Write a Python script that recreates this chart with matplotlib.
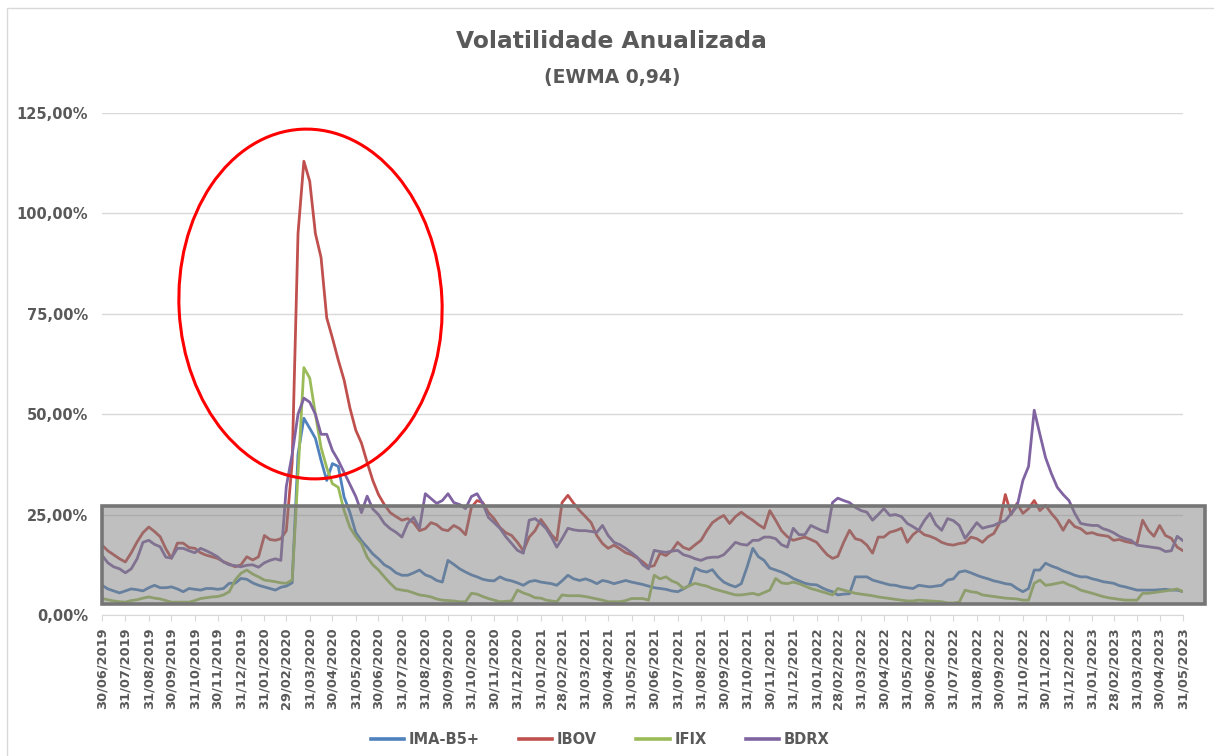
import numpy as np
import pandas as pd
import matplotlib
matplotlib.use("Agg")
import matplotlib.pyplot as plt
import matplotlib.transforms as mtransforms
from matplotlib.patches import Ellipse, Rectangle

# rótulos do eixo x (fim de cada mês)
meses = ["30/06/2019", "31/07/2019", "31/08/2019", "30/09/2019", "31/10/2019", "30/11/2019",
         "31/12/2019", "31/01/2020", "29/02/2020", "31/03/2020", "30/04/2020", "31/05/2020",
         "30/06/2020", "31/07/2020", "31/08/2020", "30/09/2020", "31/10/2020", "30/11/2020",
         "31/12/2020", "31/01/2021", "28/02/2021", "31/03/2021", "30/04/2021", "31/05/2021",
         "30/06/2021", "31/07/2021", "31/08/2021", "30/09/2021", "31/10/2021", "30/11/2021",
         "31/12/2021", "31/01/2022", "28/02/2022", "31/03/2022", "30/04/2022", "31/05/2022",
         "30/06/2022", "31/07/2022", "31/08/2022", "30/09/2022", "31/10/2022", "30/11/2022",
         "31/12/2022", "31/01/2023", "28/02/2023", "31/03/2023", "30/04/2023", "31/05/2023"]

# volatilidade (%) - 4 leituras por mês
ima_b5 = [
    7.4, 6.5, 6.0, 5.5,   6.0, 6.5, 6.3, 6.0,   6.8, 7.4, 6.8, 6.8,   7.0, 6.5, 5.8, 6.6,
    6.4, 6.2, 6.6, 6.6,   6.4, 6.6, 7.9, 7.9,   9.1, 8.9, 8.0, 7.4,   7.0, 6.6, 6.2, 6.9,
    7.2, 8.0, 40.0, 49.0,   46.5, 44.0, 38.5, 33.5,   37.7, 37.0, 29.4, 25.5,   20.5, 18.5, 16.9, 15.2,
    14.0, 12.5, 11.7, 10.5,   9.9, 9.9, 10.5, 11.2,   10.0, 9.5, 8.6, 8.2,   13.6, 12.6, 11.5, 10.7,
    10.0, 9.5, 8.9, 8.6,   8.5, 9.5, 8.8, 8.5,   8.0, 7.4, 8.3, 8.6,   8.2, 8.0, 7.8, 7.4,
    8.5, 9.9, 9.0, 8.6,   9.0, 8.5, 7.8, 8.6,   8.3, 7.8, 8.2, 8.6,   8.2, 7.9, 7.6, 7.2,
    6.8, 6.6, 6.4, 6.0,   5.8, 6.5, 7.4, 11.7,   11.0, 10.7, 11.3, 9.5,   8.2, 7.5, 7.0, 7.8,
    12.0, 16.6, 14.5, 13.6,   11.7, 11.2, 10.7, 10.0,   9.1, 8.5, 7.9, 7.6,   7.5, 6.8, 6.2, 5.8,
    5.0, 5.2, 5.3, 9.5,   9.5, 9.5, 8.7, 8.3,   7.9, 7.5, 7.4, 7.0,   6.8, 6.6, 7.4, 7.2,
    7.0, 7.2, 7.4, 8.7,   9.0, 10.7, 11.0, 10.5,   9.9, 9.4, 9.0, 8.5,   8.2, 7.8, 7.6, 6.6,
    5.8, 6.6, 11.2, 11.2,   12.9, 12.2, 11.7, 11.0,   10.5, 9.9, 9.5, 9.5,   9.0, 8.7, 8.3, 8.1,
    7.9, 7.3, 7.0, 6.6,   6.2, 6.2, 6.2, 6.2,   6.3, 6.4, 6.2, 6.2,
    5.8]

ibov = [
    17.4, 16.0, 15.0, 14.0,   13.2, 15.5, 18.2, 20.5,   21.9, 20.8, 19.5, 16.5,   14.1, 17.9, 17.9, 16.8,
    16.6, 15.5, 14.9, 14.5,   14.1, 13.3, 12.7, 12.0,   12.5, 14.5, 13.7, 14.5,   19.8, 18.8, 18.6, 19.0,
    21.0, 38.0, 95.0, 113.0,   108.0, 95.0, 89.0, 74.0,   69.0, 63.5, 58.5, 51.5,   46.0, 42.8, 38.0, 33.5,
    30.0, 27.5, 25.5, 24.5,   23.6, 24.0, 23.0, 21.0,   21.5, 23.0, 22.5, 21.3,   21.0, 22.3, 21.5, 20.0,
    26.8, 28.5, 28.0, 25.5,   24.0, 21.8, 20.5, 19.8,   18.1, 16.0, 19.4, 21.0,   23.8, 22.0, 20.0, 18.6,
    28.0, 29.8, 27.8, 26.0,   24.5, 23.0, 19.8, 17.8,   16.6, 17.4, 16.5, 15.5,   15.0, 14.2, 13.2, 12.0,
    12.3, 15.4, 14.8, 16.0,   18.1, 16.8, 16.3, 17.5,   18.6, 21.0, 23.0, 24.0,   24.8, 22.8, 24.5, 25.6,
    24.5, 23.6, 22.5, 21.6,   26.0, 23.6, 21.0, 19.5,   18.6, 19.0, 19.4, 18.8,   18.1, 16.5, 15.0, 14.1,
    14.6, 18.1, 21.1, 19.0,   18.6, 17.4, 15.4, 19.4,   19.4, 20.6, 21.0, 21.6,   18.1, 20.0, 21.1, 20.0,
    19.6, 19.0, 18.1, 17.6,   17.4, 17.8, 18.0, 19.4,   19.0, 18.1, 19.5, 20.3,   22.8, 30.0, 25.0, 27.8,
    25.3, 26.5, 28.5, 26.0,   27.3, 25.3, 23.6, 21.1,   23.6, 22.0, 21.5, 20.3,   20.5, 20.0, 19.8, 19.6,
    18.6, 18.8, 18.3, 18.0,   17.8, 23.6, 21.1, 19.6,   22.3, 19.8, 19.1, 16.9,
    16.0]

ifix = [
    4.1, 3.8, 3.5, 3.3,   3.2, 3.6, 3.8, 4.2,   4.5, 4.2, 4.0, 3.6,   3.2, 3.2, 3.2, 3.2,
    3.6, 4.1, 4.3, 4.5,   4.6, 5.0, 5.8, 8.7,   10.4, 11.2, 10.2, 9.5,   8.7, 8.5, 8.3, 8.0,
    7.9, 8.7, 35.0, 61.6,   59.0, 50.0, 41.7, 36.7,   32.7, 31.8, 26.0, 21.8,   19.5, 17.8, 14.4, 12.5,
    11.2, 9.5, 7.9, 6.5,   6.2, 6.0, 5.5, 5.0,   4.8, 4.5, 4.0, 3.7,   3.6, 3.5, 3.3, 3.3,
    5.4, 5.2, 4.6, 4.1,   3.7, 3.3, 3.4, 3.5,   6.2, 5.5, 5.0, 4.3,   4.2, 3.7, 3.5, 3.3,
    5.0, 4.8, 4.8, 4.8,   4.6, 4.3, 4.0, 3.7,   3.3, 3.3, 3.3, 3.6,   4.1, 4.1, 4.1, 3.7,
    9.9, 9.0, 9.5, 8.5,   7.9, 6.6, 7.3, 7.9,   7.5, 7.2, 6.6, 6.2,   5.8, 5.4, 5.0, 5.0,
    5.2, 5.4, 5.0, 5.6,   6.2, 9.1, 8.0, 7.8,   8.2, 7.8, 7.2, 6.6,   6.2, 5.8, 5.4, 5.0,
    6.6, 6.2, 5.8, 5.4,   5.2, 5.0, 4.8, 4.5,   4.3, 4.1, 3.9, 3.7,   3.5, 3.5, 3.7, 3.6,
    3.5, 3.4, 3.3, 3.0,   3.0, 3.2, 6.2, 5.8,   5.6, 5.0, 4.8, 4.6,   4.4, 4.2, 4.1, 4.0,
    3.7, 3.7, 7.9, 8.7,   7.4, 7.6, 7.9, 8.2,   7.5, 7.0, 6.2, 5.8,   5.4, 5.0, 4.6, 4.3,
    4.1, 3.9, 3.7, 3.7,   3.7, 5.4, 5.4, 5.6,   5.8, 6.0, 6.2, 6.5,
    5.8]

bdrx = [
    14.9, 13.0, 12.0, 11.5,   10.5, 11.5, 14.0, 18.1,   18.6, 17.6, 17.0, 14.4,   14.2, 16.6, 16.6, 16.0,
    15.5, 16.6, 16.0, 15.3,   14.5, 13.2, 12.5, 12.3,   12.0, 12.4, 12.5, 11.9,   13.0, 13.6, 14.0, 13.6,
    32.0, 40.0, 50.0, 54.0,   53.0, 50.0, 45.0, 45.0,   41.0, 38.5, 35.5, 32.5,   29.5, 25.5, 29.6, 26.4,
    25.0, 22.8, 21.5, 20.6,   19.4, 22.8, 24.3, 21.6,   30.2, 29.0, 27.8, 28.5,   30.2, 28.0, 27.5, 26.5,
    29.5, 30.2, 27.8, 24.3,   23.0, 21.6, 19.5, 17.8,   16.1, 15.4, 23.6, 24.0,   22.8, 21.5, 19.4, 16.9,
    19.0, 21.6, 21.2, 21.0,   21.0, 20.8, 20.6, 22.3,   19.8, 18.1, 17.5, 16.6,   15.5, 14.4, 12.5, 11.5,
    16.1, 15.8, 15.6, 15.9,   16.1, 15.0, 14.6, 14.0,   13.6, 14.2, 14.4, 14.4,   15.0, 16.5, 18.1, 17.6,
    17.4, 18.6, 18.6, 19.4,   19.4, 19.0, 17.5, 16.9,   21.6, 20.0, 20.0, 22.3,   21.6, 21.0, 20.6, 28.0,
    29.1, 28.5, 28.0, 26.8,   26.0, 25.6, 23.6, 25.0,   26.5, 24.8, 25.0, 24.5,   22.8, 22.0, 21.1, 23.5,
    25.3, 22.5, 21.1, 24.0,   23.5, 22.3, 19.1, 21.0,   23.0, 21.6, 22.0, 22.3,   23.0, 23.5, 25.3, 27.0,
    33.5, 37.0, 51.0, 45.0,   39.2, 35.2, 31.8, 30.0,   28.5, 25.3, 22.8, 22.5,   22.3, 22.3, 21.5, 21.1,
    20.5, 19.6, 19.0, 18.6,   17.4, 17.2, 17.0, 16.8,   16.6, 15.8, 16.0, 19.6,
    18.5]

series = [("IMA-B5+", ima_b5, "#4F81BD"),
          ("IBOV", ibov, "#C0504D"),
          ("IFIX", ifix, "#9BBB59"),
          ("BDRX", bdrx, "#8064A2")]

# datas: 4 pontos por mês entre os fechamentos
marcos = pd.to_datetime(meses, format="%d/%m/%Y")
datas = []
for a, b in zip(marcos[:-1], marcos[1:]):
    for k in range(4):
        datas.append(a + (b - a) * k / 4)
datas.append(marcos[-1])

cinza_txt = "#595959"

fig = plt.figure(figsize=(12.14, 7.56), dpi=100)
ax = fig.add_axes([0.084, 0.1865, 0.8905, 0.664])

handles = []
for nome, vals, cor in series:
    h, = ax.plot(datas, vals, color=cor, lw=2.0, label=nome, zorder=3)
    handles.append(h)

ax.set_ylim(0, 125)
yt = np.arange(0, 126, 25)
ax.set_yticks(yt)
ax.set_yticklabels([f"{v:.2f}".replace(".", ",") + "%" for v in yt])
ax.set_xlim(marcos[0], marcos[-1])
ax.set_xticks(marcos)
ax.set_xticklabels(meses, rotation=90)

ax.grid(axis="y", color="#d9d9d9", lw=1)
ax.set_axisbelow(True)
for s in ["top", "right", "left"]:
    ax.spines[s].set_visible(False)
ax.spines["bottom"].set_color("#d9d9d9")
# pad/length em pontos (1 pt = 1,39 px a 100 dpi)
ax.tick_params(axis="x", length=4, color="#d9d9d9", pad=5, labelsize=9.4, labelcolor=cinza_txt)
ax.tick_params(axis="y", length=0, pad=10, labelsize=10.5, labelcolor=cinza_txt)
for lab in ax.get_xticklabels() + ax.get_yticklabels():
    lab.set_fontweight("bold")

# caixa cinza translúcida sobre a faixa 0-27%
trans = mtransforms.blended_transform_factory(ax.transAxes, ax.transData)
caixa = Rectangle((0, 2.65), 1.0204, 27.1 - 2.65, transform=trans,
                  facecolor=(0.5, 0.5, 0.5, 0.5), edgecolor="#767676", lw=2.6,
                  clip_on=False, zorder=5)
ax.add_patch(caixa)

# elipse vermelha destacando o pico da pandemia
elipse = Ellipse((3.105, 4.52), 2.63, 3.50, angle=3, transform=fig.dpi_scale_trans,
                 fill=False, edgecolor="#FF0000", lw=2.2, zorder=6)
fig.add_artist(elipse)

# borda da área do gráfico
borda = Rectangle((7 / 1214, -0.1), 1.2, 1.0894, transform=fig.transFigure,
                  fill=False, edgecolor="#d9d9d9", lw=1)
fig.add_artist(borda)

fig.text(0.504, 1 - 42 / 756, "Volatilidade Anualizada", ha="center", va="center",
         fontsize=16.8, fontweight="bold", color=cinza_txt)
fig.text(0.504, 1 - 77 / 756, "(EWMA 0,94)", ha="center", va="center",
         fontsize=13.5, fontweight="bold", color=cinza_txt)

leg = fig.legend(handles=handles, loc="center", bbox_to_anchor=(600 / 1214, 1 - 740 / 756),
                 ncol=4, frameon=False, handlelength=2.3, handletextpad=0.3,
                 columnspacing=2.7, prop={"weight": "bold", "size": 10.5},
                 labelcolor=cinza_txt)
for ln in leg.get_lines():
    ln.set_linewidth(2.6)

fig.savefig("out.png", dpi=100)
